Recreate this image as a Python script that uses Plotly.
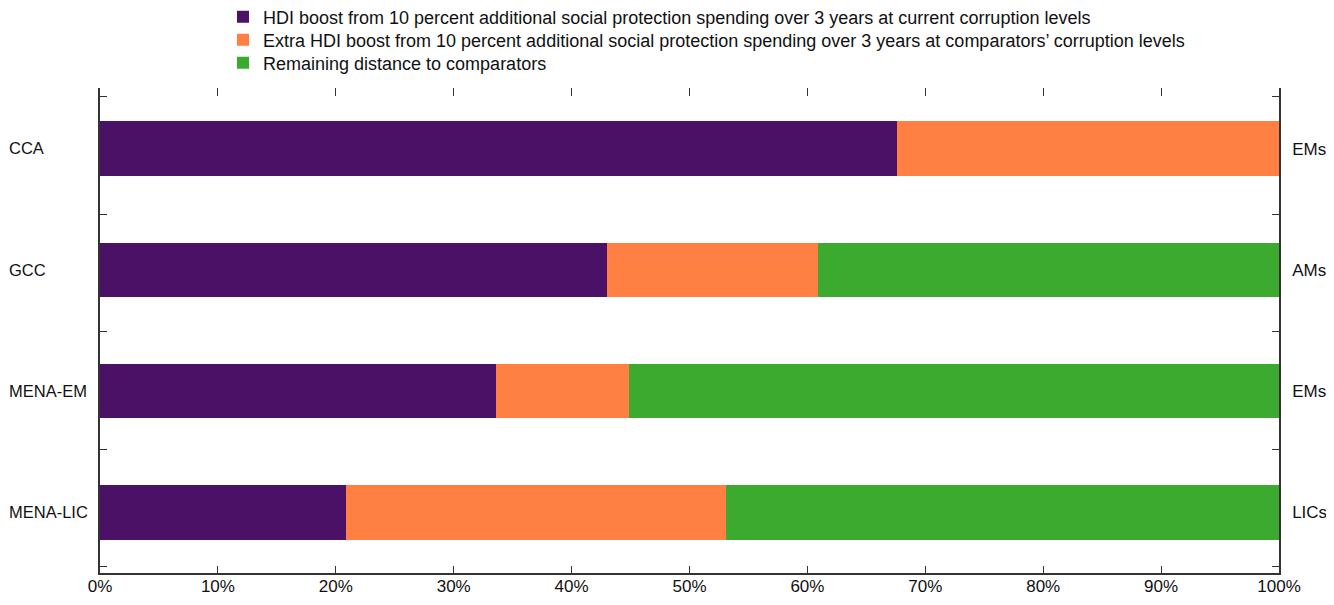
import plotly.graph_objects as go

categories = ["CCA", "GCC", "MENA-EM", "MENA-LIC"]
comparators = ["EMs", "AMs", "EMs", "LICs"]
series_names = [
    "HDI boost from 10 percent additional social protection spending over 3 years at current corruption levels",
    "Extra HDI boost from 10 percent additional social protection spending over 3 years at comparators\u2019 corruption levels",
    "Remaining distance to comparators",
]
boost_current = [67.6, 43.0, 33.6, 20.9]
boost_extra = [32.4, 17.9, 11.3, 32.2]
remaining = [0.0, 39.1, 55.1, 46.9]
x_tick_vals = [0, 10, 20, 30, 40, 50, 60, 70, 80, 90, 100]
x_tick_text = [f"{v}%" for v in x_tick_vals]

colors = ["#4A1166", "#FF8042", "#3BAA2F"]
FONT = "Liberation Sans, Arial, sans-serif"
TXT = "#111111"

W, H = 1318, 589
ML, MR, MT, MB = 0, 47, 80, 24
paper_w = W - ML - MR
plot_left_px = 92
dom0 = plot_left_px / paper_w
legend_left_px = 215

n = len(categories)
ypos = [n - 1 - i for i in range(n)]
legend_ids = ["legend", "legend2", "legend3"]

fig = go.Figure()
for name, vals, col, lg in zip(series_names, [boost_current, boost_extra, remaining], colors, legend_ids):
    fig.add_trace(go.Bar(
        y=ypos, x=vals, name=name, orientation="h",
        marker=dict(color=col, line=dict(width=0)),
        width=0.45, legend=lg,
    ))

# invisible traces so secondary axes render
fig.add_trace(go.Scatter(x=[0], y=[0], xaxis="x2", yaxis="y2", mode="markers",
                         marker=dict(opacity=0), showlegend=False, hoverinfo="skip"))
fig.add_trace(go.Scatter(x=[0], y=[0], xaxis="x", yaxis="y3", mode="markers",
                         marker=dict(opacity=0), showlegend=False, hoverinfo="skip"))

axis_color = "#333333"
plot_h = H - MT - MB
row_centers_px = [9, 32, 55]
legend_common = dict(
    orientation="v", x=legend_left_px / paper_w, xanchor="left", yanchor="middle",
    traceorder="normal", font=dict(family=FONT, size=18, color=TXT),
    itemwidth=30, bgcolor="rgba(0,0,0,0)",
)

fig.update_layout(
    barmode="stack",
    width=W, height=H,
    paper_bgcolor="white", plot_bgcolor="white",
    margin=dict(l=ML, r=MR, t=MT, b=MB, autoexpand=False),
    font=dict(family=FONT, size=17, color=TXT),
    showlegend=True,
    legend=dict(legend_common, y=1 + (MT - row_centers_px[0]) / plot_h),
    legend2=dict(legend_common, y=1 + (MT - row_centers_px[1]) / plot_h),
    legend3=dict(legend_common, y=1 + (MT - row_centers_px[2]) / plot_h),
    xaxis=dict(
        domain=[dom0, 1],
        range=[0, 100], tickvals=x_tick_vals, ticktext=x_tick_text,
        tickfont=dict(family=FONT, size=17, color=TXT),
        ticks="inside", ticklen=7, tickcolor=axis_color, tickwidth=1,
        showline=True, linecolor=axis_color, linewidth=1.5,
        showgrid=False, zeroline=False, fixedrange=True, automargin=False,
        ticklabelstandoff=-3,
    ),
    xaxis2=dict(
        domain=[dom0, 1],
        range=[0, 100], overlaying="x", side="top", tickvals=x_tick_vals,
        ticks="inside", ticklen=8, tickcolor=axis_color, tickwidth=1,
        showticklabels=False, showline=False, showgrid=False, zeroline=False,
        automargin=False,
    ),
    yaxis=dict(
        range=[-0.5, 3.5], tickvals=ypos, showticklabels=False,
        ticks="", showline=True, linecolor=axis_color, linewidth=1.5,
        showgrid=False, zeroline=False, automargin=False,
        minor=dict(ticks="inside", tick0=-0.45, dtick=0.97, ticklen=7,
                   tickcolor=axis_color, showgrid=False),
    ),
    yaxis2=dict(
        range=[-0.5, 3.5], overlaying="y", side="right", anchor="x",
        tickvals=ypos, ticktext=comparators,
        tickfont=dict(family=FONT, size=17, color=TXT),
        ticks="", showline=True, linecolor=axis_color, linewidth=1.5,
        showgrid=False, zeroline=False, ticklabelstandoff=8, automargin=False,
        minor=dict(ticks="inside", tick0=-0.45, dtick=0.97, ticklen=7,
                   tickcolor=axis_color, showgrid=False),
    ),
    yaxis3=dict(
        range=[-0.5, 3.5], overlaying="y", side="left", anchor="free", position=0,
        tickvals=ypos, ticktext=categories, ticklabelposition="inside",
        tickfont=dict(family=FONT, size=16.5, color=TXT),
        ticklabelstandoff=-3,
        ticks="", showline=False, showgrid=False, zeroline=False, automargin=False,
    ),
)

fig.write_html("out.html")
